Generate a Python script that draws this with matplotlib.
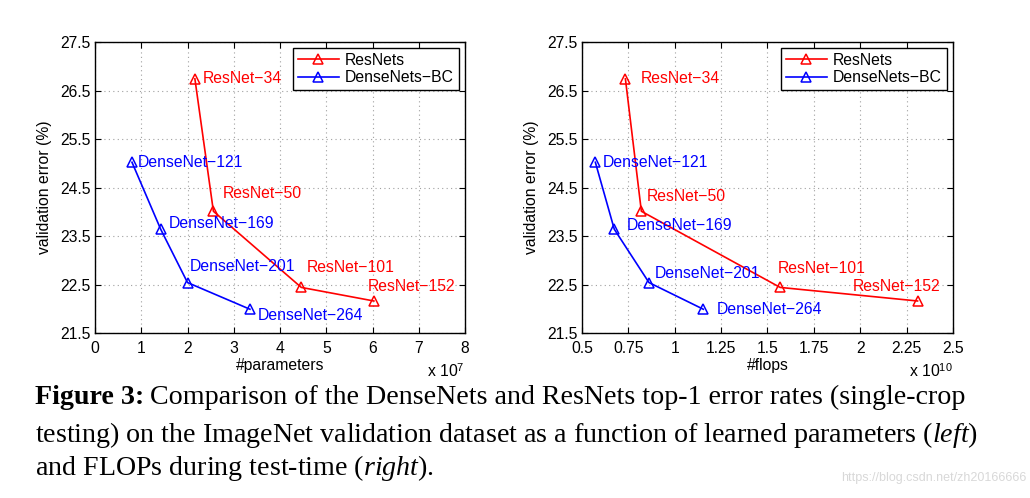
import matplotlib
matplotlib.use("Agg")
import matplotlib.pyplot as plt

# data
resnet_names = ["ResNet\u221234", "ResNet\u221250", "ResNet\u2212101", "ResNet\u2212152"]
densenet_names = ["DenseNet\u2212121", "DenseNet\u2212169", "DenseNet\u2212201", "DenseNet\u2212264"]

resnet_params = [2.16, 2.56, 4.46, 6.03]      # x 10^7
densenet_params = [0.80, 1.42, 2.00, 3.35]    # x 10^7
resnet_flops = [0.734, 0.82, 1.568, 2.309]    # x 10^10
densenet_flops = [0.572, 0.674, 0.861, 1.154]  # x 10^10

resnet_err = [26.74, 24.01, 22.44, 22.16]
densenet_err = [25.02, 23.64, 22.54, 21.99]

plt.rcParams['font.family'] = ['Liberation Sans', 'DejaVu Sans']
plt.rcParams['mathtext.fontset'] = 'custom'
plt.rcParams['mathtext.rm'] = 'Liberation Sans'
plt.rcParams['mathtext.it'] = 'Liberation Serif:italic'

W, H = 1030, 498
fig = plt.figure(figsize=(W / 100, H / 100), dpi=100)
fs = 11.3


def setup(ax, xlim, xticks, xticklabels, xlabel, mult):
    ax.set_xlim(xlim)
    ax.set_ylim(21.5, 27.5)
    ax.set_xticks(xticks)
    ax.set_xticklabels(xticklabels, fontsize=fs)
    ax.set_yticks([21.5, 22.5, 23.5, 24.5, 25.5, 26.5, 27.5])
    ax.set_yticklabels(["21.5", "22.5", "23.5", "24.5", "25.5", "26.5", "27.5"], fontsize=fs)
    ax.tick_params(direction='in', top=True, right=True, length=4, width=0.8)
    ax.tick_params(axis='x', pad=6)
    ax.tick_params(axis='y', pad=3)
    ax.grid(True, linestyle=(0, (1, 3)), color='#a0a0a0', linewidth=0.8)
    for s in ax.spines.values():
        s.set_linewidth(1.0)
    ax.set_xlabel(xlabel, fontsize=fs, labelpad=1)
    ax.set_ylabel("validation error (%)", fontsize=fs, labelpad=6)
    ax.text(1.0, -0.1, "x 10$^{%d}$" % mult, transform=ax.transAxes,
            ha='right', va='top', fontsize=fs)
    ax.legend(loc='upper right', fontsize=fs, fancybox=False, edgecolor='black',
              framealpha=1, handlelength=2.6, borderpad=0.3, labelspacing=0.15,
              handletextpad=0.4, borderaxespad=0.4)


def draw(ax, rx, dx, r_off, d_off):
    ax.plot(rx, resnet_err, color='red', marker='^', mfc='none', ms=7, lw=1.2,
            mew=1.1, label='ResNets')
    ax.plot(dx, densenet_err, color='blue', marker='^', mfc='none', ms=7, lw=1.2,
            mew=1.1, label='DenseNets\u2212BC')
    for name, x, y, off in zip(resnet_names, rx, resnet_err, r_off):
        ax.annotate(name, (x, y), xytext=off, textcoords='offset pixels',
                    color='red', fontsize=fs, ha='left', va='center')
    for name, x, y, off in zip(densenet_names, dx, densenet_err, d_off):
        ax.annotate(name, (x, y), xytext=off, textcoords='offset pixels',
                    color='blue', fontsize=fs, ha='left', va='center')


# left: parameters
ax1 = fig.add_axes([95 / W, (H - 333) / H, 370 / W, 291 / H])
draw(ax1, resnet_params, densenet_params,
     [(8, 0), (9, 18), (5, 20), (-6, 14)],
     [(6, 0), (8, 6), (2, 16), (8, -6)])
setup(ax1, (0, 8), range(0, 9), [str(i) for i in range(0, 9)], "#parameters", 7)

# right: flops
ax2 = fig.add_axes([582 / W, (H - 333) / H, 371 / W, 291 / H])
draw(ax2, resnet_flops, densenet_flops,
     [(15, 0), (5, 15), (-2, 19), (-65, 14)],
     [(7, 0), (12, 4), (6, 9), (13, 0)])
xt = [0.5, 0.75, 1, 1.25, 1.5, 1.75, 2, 2.25, 2.5]
setup(ax2, (0.5, 2.5), xt, ["0.5", "0.75", "1", "1.25", "1.5", "1.75", "2", "2.25", "2.5"],
      "#flops", 10)

# caption
cap_fs = 20.2
serif = ['Liberation Serif', 'DejaVu Serif']
renderer = fig.canvas.get_renderer()
t_bold = fig.text(35 / W, 1 - 397 / H, "Figure 3:", fontsize=cap_fs, family=serif,
                  fontweight='bold', va='center', ha='left')
bb = t_bold.get_window_extent(renderer)
fig.text((bb.x1 + 6) / W, 1 - 397 / H,
         "Comparison of the DenseNets and ResNets top-1 error rates (single-crop",
         fontsize=cap_fs, family=serif, va='center', ha='left')
fig.text(35 / W, 1 - 435 / H,
         "testing) on the ImageNet validation dataset as a function of learned parameters ($left$)",
         fontsize=cap_fs, family=serif, va='center', ha='left')
fig.text(35 / W, 1 - 468 / H, "and FLOPs during test-time ($right$).",
         fontsize=cap_fs, family=serif, va='center', ha='left')

fig.text(1027 / W, 1 - 478 / H, "https://blog.csdn.net/zh20166666", fontsize=9,
         color='#d8d8d8', ha='right', va='center')

fig.savefig("out.png", dpi=100)
